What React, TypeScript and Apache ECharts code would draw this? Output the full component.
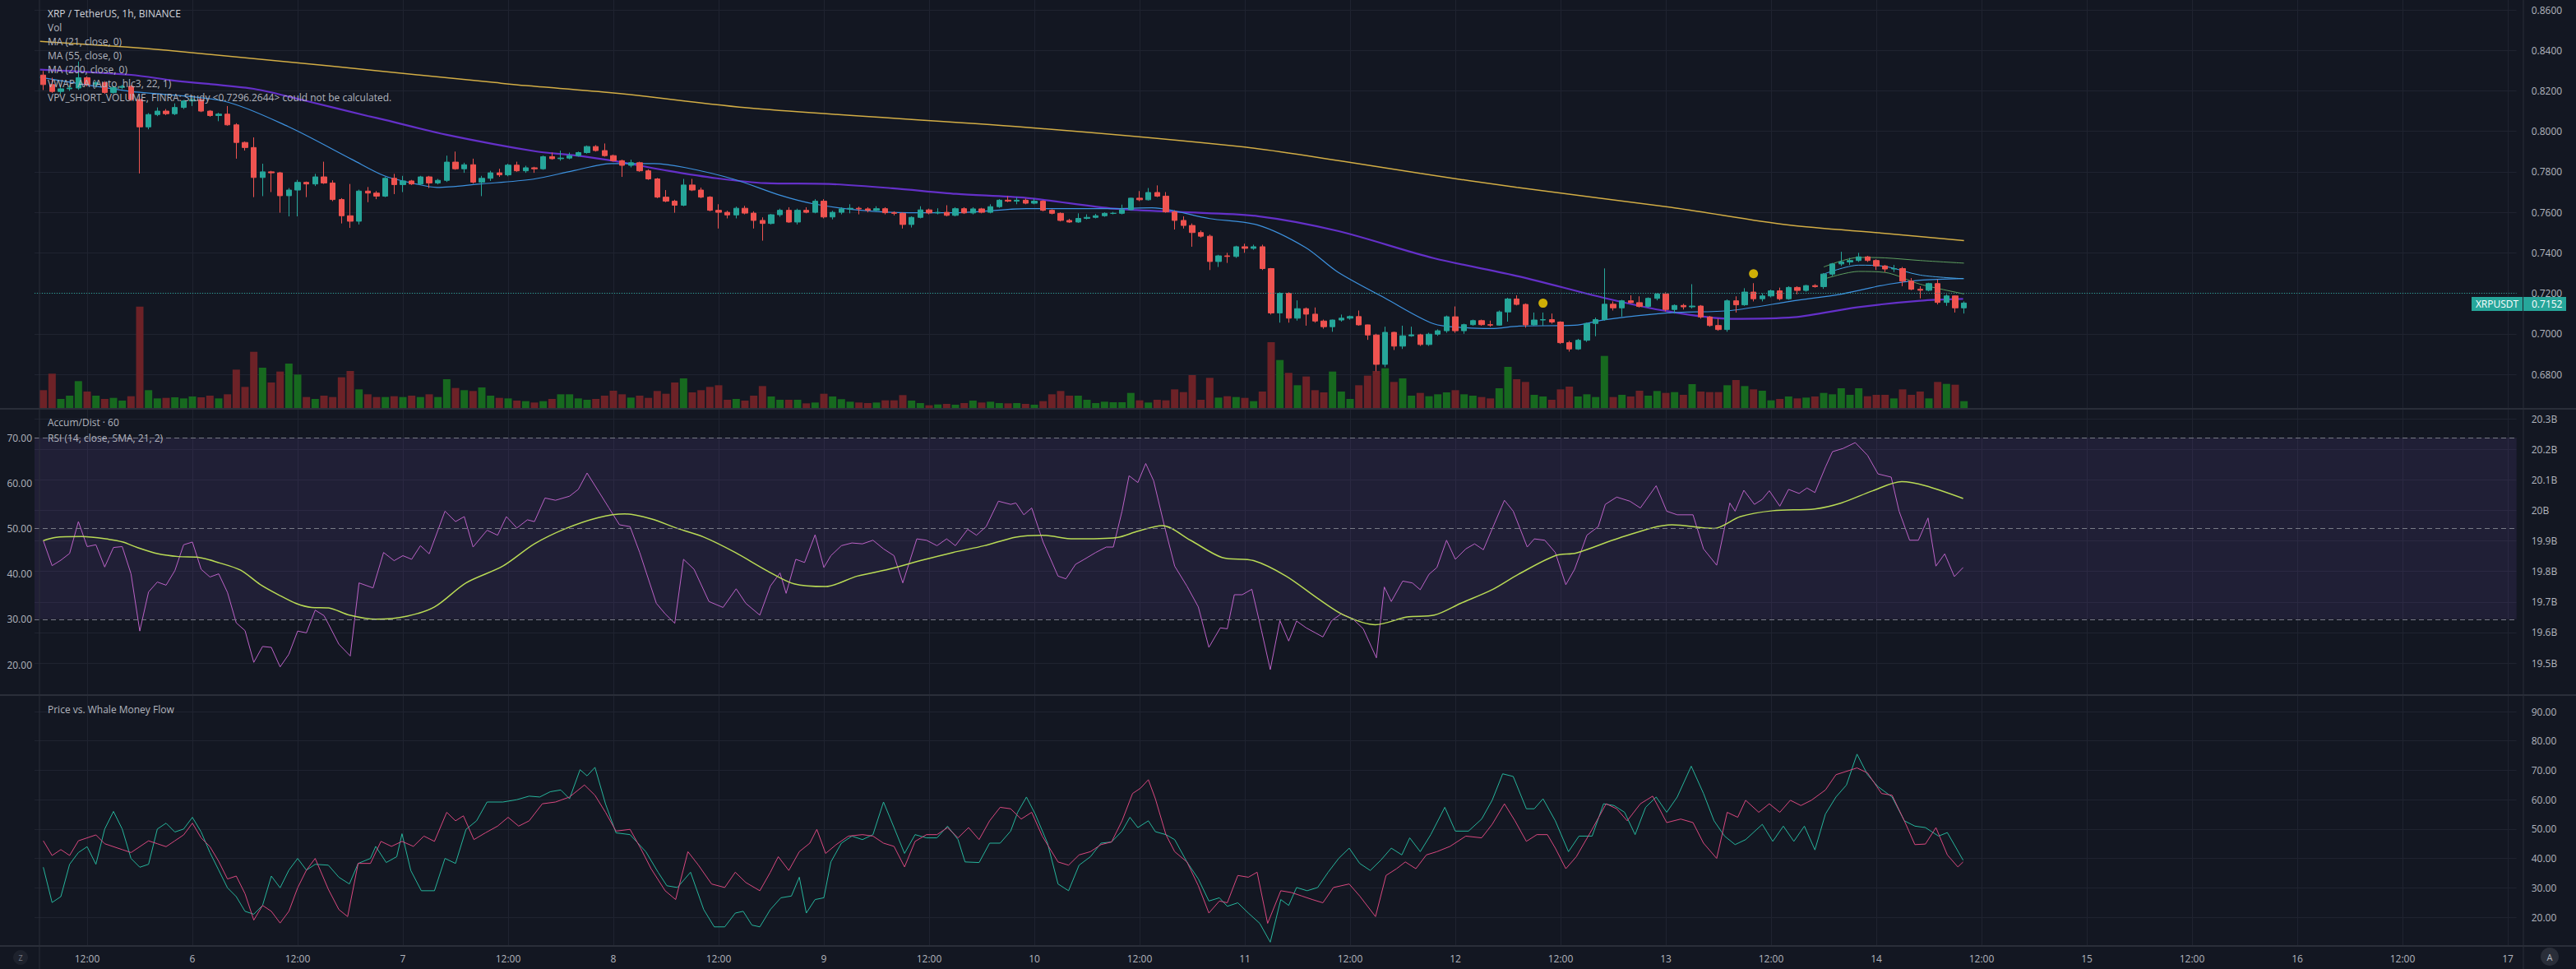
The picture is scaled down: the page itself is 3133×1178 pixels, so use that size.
import React, { useEffect, useRef } from "react";
import * as echarts from "echarts";

const W = 3133;
const H = 1178;
const BG = "#131722";
const GRID_C = "#1f2330";
const BORDER_C = "#2a2e39";
const AXIS_TXT = "#b2b5be";
const FONT = "Open Sans";

// ---- time axis (hourly, from the 5th 06:00 to the 17th 01:00) ----
const startDay = 5;
const startHour = 6;
const hourCount = 284;
const lastPrice = 0.7152;

// ---- candles (index 1 = 5th 07:00) ----
const opens = [
.8278,.8231,.8197,.8210,.8214,.8265,.8231,.8240,.8192,.8217,
.8222,.8157,.8022,.8083,.8100,.8087,.8118,.8150,.8156,.8100,
.8078,.8085,.8032,.7945,.7920,.7772,.7800,.7795,.7682,.7710,
.7748,.7740,.7775,.7745,.7663,.7583,.7556,.7705,.7695,.7680,
.7768,.7737,.7755,.7740,.7775,.7745,.7758,.7848,.7815,.7835,
.7749,.7768,.7795,.7785,.7833,.7805,.7820,.7815,.7875,.7865,
.7868,.7880,.7895,.7925,.7905,.7880,.7855,.7832,.7845,.7805,
.7765,.7675,.7655,.7635,.7735,.7710,.7675,.7610,.7600,.7587,
.7620,.7596,.7560,.7545,.7588,.7610,.7552,.7610,.7600,.7655,
.7577,.7600,.7617,.7620,.7617,.7610,.7618,.7598,.7595,.7540,
.7575,.7612,.7597,.7600,.7585,.7618,.7597,.7617,.7600,.7628,
.7660,.7655,.7660,.7645,.7655,.7610,.7595,.7560,.7552,.7570,
.7575,.7583,.7595,.7595,.7613,.7670,.7662,.7698,.7680,.7602,
.7560,.7535,.7500,.7482,.7357,.7385,.7382,.7430,.7422,.7430,
.7322,.7103,.7200,.7077,.7124,.7097,.7063,.7035,.7068,.7077,
.7085,.7044,.6994,.6849,.7007,.6939,.6990,.6995,.6947,.6998,
.7015,.7084,.7015,.7045,.7065,.7045,.7043,.7108,.7172,.7145,
.7044,.7068,.7070,.7058,.6956,.6925,.6968,.7051,.7070,.7146,
.7128,.7163,.7154,.7135,.7175,.7197,.7120,.7140,.7133,.7137,
.7083,.7041,.7021,.7163,.7143,.7206,.7173,.7187,.7212,.7173,
.7229,.7214,.7238,.7233,.7295,.7345,.7355,.7362,.7380,.7362,
.7335,.7320,.7322,.7260,.7220,.7215,.7248,.7155,.7187,.7128
];
const closes = [
.8231,.8197,.8210,.8214,.8265,.8231,.8240,.8192,.8217,.8222,
.8157,.8022,.8083,.8100,.8087,.8118,.8150,.8156,.8100,.8078,
.8085,.8032,.7945,.7920,.7772,.7800,.7795,.7682,.7710,.7748,
.7740,.7775,.7745,.7663,.7583,.7556,.7705,.7695,.7680,.7768,
.7737,.7755,.7740,.7775,.7745,.7758,.7848,.7815,.7835,.7749,
.7768,.7795,.7785,.7833,.7805,.7820,.7815,.7875,.7865,.7868,
.7880,.7895,.7925,.7905,.7880,.7855,.7832,.7845,.7805,.7765,
.7675,.7655,.7635,.7735,.7710,.7675,.7610,.7600,.7587,.7620,
.7596,.7560,.7545,.7588,.7610,.7552,.7610,.7600,.7655,.7577,
.7600,.7617,.7620,.7617,.7610,.7618,.7598,.7595,.7540,.7575,
.7612,.7597,.7600,.7585,.7618,.7597,.7617,.7600,.7628,.7660,
.7655,.7660,.7645,.7655,.7610,.7595,.7560,.7552,.7570,.7575,
.7583,.7595,.7595,.7613,.7670,.7662,.7698,.7680,.7602,.7560,
.7535,.7500,.7482,.7357,.7385,.7382,.7430,.7422,.7430,.7322,
.7103,.7200,.7077,.7124,.7097,.7063,.7035,.7068,.7077,.7085,
.7044,.6994,.6849,.7007,.6939,.6990,.6995,.6947,.6998,.7015,
.7084,.7015,.7045,.7065,.7045,.7043,.7108,.7172,.7145,.7044,
.7068,.7070,.7058,.6956,.6925,.6968,.7051,.7070,.7146,.7128,
.7163,.7154,.7135,.7175,.7197,.7120,.7140,.7133,.7137,.7083,
.7041,.7021,.7163,.7143,.7206,.7173,.7187,.7212,.7173,.7229,
.7214,.7238,.7233,.7295,.7345,.7355,.7362,.7380,.7362,.7335,
.7320,.7322,.7260,.7220,.7215,.7248,.7155,.7187,.7128,.7152
];
const highs = [
.8298,.8265,.8228,.8228,.8345,.8272,.8250,.8248,.8225,.8230,
.8228,.8170,.8090,.8118,.8110,.8138,.8155,.8170,.8162,.8105,
.8092,.8125,.8040,.7950,.7970,.7840,.7805,.7800,.7720,.7760,
.7752,.7790,.7850,.7758,.7670,.7740,.7712,.7725,.7705,.7775,
.7790,.7780,.7760,.7780,.7780,.7765,.7880,.7900,.7845,.7865,
.7780,.7805,.7815,.7840,.7850,.7830,.7825,.7880,.7895,.7905,
.7895,.7900,.7930,.7932,.7940,.7885,.7860,.7860,.7850,.7812,
.7770,.7710,.7662,.7765,.7765,.7722,.7680,.7640,.7608,.7628,
.7632,.7605,.7575,.7592,.7618,.7625,.7618,.7625,.7665,.7665,
.7608,.7625,.7640,.7628,.7625,.7630,.7625,.7605,.7600,.7580,
.7630,.7618,.7620,.7635,.7625,.7625,.7625,.7622,.7640,.7665,
.7680,.7675,.7668,.7668,.7660,.7615,.7600,.7568,.7595,.7590,
.7592,.7600,.7602,.7638,.7672,.7705,.7720,.7733,.7700,.7610,
.7580,.7545,.7510,.7490,.7390,.7400,.7435,.7445,.7440,.7440,
.7325,.7205,.7205,.7165,.7130,.7130,.7070,.7070,.7095,.7090,
.7115,.7045,.7000,.7035,.7010,.7040,.7035,.7000,.7005,.7022,
.7090,.7135,.7050,.7070,.7070,.7065,.7115,.7178,.7190,.7150,
.7105,.7105,.7100,.7062,.6965,.6975,.7055,.7080,.7323,.7160,
.7168,.7190,.7185,.7180,.7200,.7205,.7145,.7148,.7245,.7142,
.7088,.7075,.7170,.7185,.7225,.7250,.7200,.7218,.7228,.7235,
.7235,.7242,.7245,.7300,.7350,.7405,.7375,.7400,.7385,.7368,
.7340,.7340,.7330,.7275,.7235,.7252,.7268,.7195,.7190,.7160
];
const lows = [
.8204,.8190,.8185,.8200,.8205,.8222,.8215,.8185,.8186,.8208,
.8150,.7792,.8010,.8075,.8080,.8080,.8110,.8125,.8095,.8072,
.8050,.8028,.7865,.7905,.7675,.7680,.7700,.7598,.7580,.7580,
.7675,.7730,.7740,.7655,.7545,.7523,.7540,.7650,.7665,.7675,
.7690,.7700,.7735,.7735,.7720,.7738,.7750,.7810,.7795,.7742,
.7680,.7755,.7775,.7778,.7800,.7795,.7795,.7810,.7860,.7855,
.7862,.7875,.7890,.7900,.7875,.7850,.7775,.7822,.7800,.7760,
.7670,.7650,.7598,.7630,.7705,.7670,.7605,.7520,.7570,.7570,
.7590,.7520,.7460,.7540,.7578,.7548,.7540,.7595,.7595,.7570,
.7565,.7590,.7595,.7590,.7600,.7605,.7590,.7585,.7520,.7525,
.7570,.7590,.7590,.7580,.7580,.7592,.7590,.7595,.7595,.7622,
.7650,.7640,.7640,.7640,.7605,.7590,.7555,.7548,.7548,.7565,
.7570,.7578,.7590,.7590,.7610,.7655,.7658,.7675,.7598,.7515,
.7520,.7430,.7475,.7315,.7330,.7350,.7375,.7400,.7415,.7315,
.7095,.7055,.7055,.7065,.7040,.7055,.7025,.7010,.7060,.7070,
.7040,.6970,.6815,.6835,.6920,.6925,.6985,.6940,.6940,.6990,
.7005,.7005,.7000,.7040,.7040,.7035,.7040,.7060,.7140,.7030,
.7040,.7040,.7050,.6950,.6912,.6920,.6960,.6988,.7065,.7115,
.7085,.7150,.7130,.7130,.7165,.7110,.7100,.7120,.7125,.7075,
.7035,.7015,.7010,.7105,.7138,.7160,.7160,.7180,.7165,.7168,
.7195,.7208,.7228,.7222,.7285,.7335,.7340,.7355,.7355,.7315,
.7305,.7305,.7235,.7215,.7175,.7210,.7145,.7138,.7105,.7100
];
const volumes = [
65,125,33,45,98,60,45,33,37,27,
43,370,65,35,37,39,35,42,39,45,
35,50,140,77,205,147,93,133,162,122,
40,33,45,40,112,135,68,50,40,40,
43,40,45,40,50,40,105,73,65,62,
75,45,37,35,27,25,20,25,33,50,
50,35,30,33,45,63,50,38,45,37,
62,52,93,108,57,65,77,83,30,33,
27,45,80,42,30,30,30,17,20,52,
42,32,23,20,18,20,28,28,47,27,
18,10,13,15,12,18,27,20,23,18,
17,18,15,12,25,50,62,45,45,30,
18,23,21,21,55,28,20,30,28,68,
58,120,30,110,38,43,40,37,25,60,
240,175,128,83,115,65,57,133,60,33,
83,118,135,145,95,108,45,55,43,50,
57,65,50,45,40,35,72,150,105,95,
48,42,30,68,78,42,50,40,190,40,
48,42,63,45,62,55,58,48,87,60,
58,58,83,102,80,68,63,28,33,42,
35,38,42,55,50,72,48,72,43,48,
48,35,68,48,60,35,95,88,85,25
];

// ---- moving averages: [candle index, price] ----
const ma21 = [[0.6,.8267],[10.8,.8198],[21.6,.8149],[28.9,.8024],[36.2,.7861],[39.9,.778],[43.5,.774],[45.9,.7723],[50.8,.774],[56.9,.7764],[61.4,.7805],[65.8,.7841],[70.6,.7841],[74.2,.7821],[79.7,.7764],[85.1,.7683],[88.8,.7642],[94.2,.761],[99.7,.7598],[105.1,.7598],[113.1,.7618],[123.1,.7618],[127.4,.7622],[134,.7569],[139.5,.7537],[144.9,.7427],[148.6,.7305],[154,.7176],[159.5,.705],[163.2,.703],[166.1,.7026],[169.3,.7038],[175.6,.7042],[179.1,.707],[186.2,.7103],[193.4,.7115],[200.6,.7163],[206,.7196],[211.4,.7245],[215,.7265],[219.9,.7273]];
const ma55 = [[0.6,.8305],[11,.8279],[16,.825],[25,.821],[31,.815],[38,.8076],[40,.8056],[47,.7983],[57,.7902],[61.4,.7882],[66.2,.7853],[72.4,.7804],[77.8,.7768],[83.3,.7744],[90.6,.774],[97.8,.7719],[105.1,.7691],[113.1,.7671],[123.1,.7618],[130.4,.7602],[139.5,.7581],[148.6,.7508],[159.5,.7374],[169.3,.7283],[179.1,.7176],[186.2,.7111],[193.4,.7074],[200.6,.7082],[207.8,.7131],[215,.7163],[219.9,.7172]];
const ma200 = [[0.6,.8445],[15,.8401],[52,.8243],[56,.8226],[66,.819],[82,.8113],[113,.802],[138,.7922],[149,.7853],[158,.7792],[169,.7723],[187,.7622],[200,.7537],[211,.7496],[220,.746]];
const vwapUpper = [[204,.7330],[208,.7377],[211,.7375],[215,.7362],[220,.7349]];
const vwapMid = [[204,.7295],[208,.7339],[211,.7333],[215,.7290],[220,.7272]];
const vwapLower = [[204,.7270],[208,.7308],[211,.7303],[215,.7245],[220,.7197]];
const signalDots = [[172,.7151],[196,.7297]];

// ---- RSI pane ----
const rsi = [[1,47.3],[2,41.8],[3,43],[4,44.5],[5,51.5],[6,46],[7,46.4],[8,41.5],[9,45.8],[10,46],[11,40],[12,27.4],[13,36],[14,38.2],[15,37.5],[16,40.7],[17,46.4],[18,47],[19,41],[20,39.3],[21,40],[22,35.9],[23,29.2],[24,27.5],[25,20.5],[26,24],[27,23.8],[28,19.5],[29,22.3],[30,27.4],[31,27],[32,32],[33,30.8],[33.5,29],[34.7,24.5],[36,21.9],[37,38],[38.6,36.9],[39.8,44.7],[41,42.9],[42,44],[43,43.2],[44,46.2],[45,44.4],[46.8,53.8],[48,51.5],[49,52.6],[50,45.9],[51.6,49.6],[52.8,48.5],[53.8,52.6],[55,50.1],[56.2,51.9],[57,51.5],[58.2,56.7],[59.4,56.2],[61,57.1],[62,58.6],[63,62.2],[64.3,58.2],[65.5,54.5],[66.7,50.8],[67.9,50.4],[69,44.7],[70.9,33.5],[71.9,31.2],[73,29.1],[74,43.2],[75.2,41],[76.9,33.9],[78.5,32.6],[80,36.7],[81.1,33.5],[82.7,30.9],[83.9,37.3],[85,40.2],[85.7,35.7],[86.8,43.2],[87.8,42.5],[89,48.6],[90,41.4],[90.8,44],[92,46.2],[93.2,46.8],[94.4,46.6],[95.6,47.4],[96.8,45.5],[98,44],[99,38],[100.6,47.7],[101.7,47.4],[102.9,46.2],[104,47.7],[105,46.2],[106.4,49.8],[107.4,48.5],[108.5,50.4],[109.9,56],[111.3,55.3],[111.9,55.6],[112.8,53],[113.7,54.5],[115,47],[116.7,39.5],[117.6,38.9],[118.7,42.1],[119.7,43.2],[121,44.7],[122.2,45.9],[123,45.9],[124,53.8],[124.8,61.6],[125.8,60.1],[126.7,64.3],[127.6,60.5],[128.8,50.8],[130,41.7],[131.4,37.3],[132.7,32.7],[133.9,23.8],[135.2,28.1],[136,27.9],[136.8,35.4],[137.7,35.4],[138.8,36.6],[139.9,27.5],[140.9,18.9],[142,29.7],[143,25.2],[143.9,29.6],[145,28.1],[146.9,26.1],[147.9,29.7],[149,31.2],[150.3,30.1],[151.5,27.9],[153,21.5],[153.9,37.1],[154.7,33.9],[156,38.4],[157.1,38],[158,36.5],[159,39.9],[159.9,41.4],[161,47.4],[162,43.2],[163.2,45.5],[164.2,46.6],[165.2,45.3],[166.4,50.8],[167.6,56.2],[168.6,53.8],[170.2,45.9],[171,47.7],[172.2,47.4],[173.4,44.7],[174.6,37.6],[175.6,41],[177,48.5],[178.3,50.4],[179.1,55.3],[180.4,56.9],[181.9,56],[183.1,54.5],[184.9,59.4],[186.1,53.8],[187.3,53],[189.1,53],[190.3,45.5],[191.8,41.9],[193.3,55.6],[193.9,53.8],[194.9,58.4],[196.1,55.3],[197,56.4],[197.8,58.3],[199,54.9],[200,58.6],[201.2,57.7],[202.1,58.9],[203,57.9],[204.2,63.5],[205,66.9],[206.2,67.6],[207.6,68.9],[209,66.1],[210.2,62],[211.7,61.3],[212.6,53.8],[213.8,47.4],[214.8,47.4],[215.9,52.3],[216.8,41.7],[217.8,44.4],[218.9,39.4],[219.9,41.4]];
const rsiMa = [[1,47.3],[2.3,48],[5.4,48.2],[8.5,47.6],[10.1,47],[11.7,45.8],[14.1,44.4],[16.4,43.8],[18.5,43.7],[21.1,42.4],[23.5,40.8],[25.7,37.7],[27.9,35.3],[29.8,33.5],[31.6,32.6],[33.5,32.5],[35.9,30.9],[38.9,30],[42.5,30.7],[45.6,32.7],[49.2,38],[53.4,41.7],[57,46.6],[60.6,50],[64.3,52.4],[67.3,53.2],[70.3,52.1],[73.3,50],[76.3,48.1],[79.9,44.7],[83.6,40.6],[86.6,37.8],[90.2,37.2],[93.8,39.5],[97.4,41],[101,42.9],[104.7,44.7],[108.3,46.2],[111.9,48.1],[114.9,48.5],[118.5,47.7],[123.4,48],[125.8,49.4],[128.6,50.6],[131.8,47.4],[135.4,43.6],[139,42.9],[142.7,39.5],[146.3,34.6],[149.3,30.9],[152.9,28.8],[156.5,30.5],[159.6,30.9],[162.6,33.5],[166.2,36.5],[169.2,39.9],[173.4,44],[175.8,44.6],[180.7,47.9],[186.7,50.8],[191.5,50],[194.5,52.6],[198.2,53.9],[203,54.3],[206,55.6],[209.6,58.3],[212.9,60.3],[215.6,59.4],[219.9,56.6]];
const rsiTicks = [20, 30, 40, 50, 60, 70];
const rsiLevels = [70, 50, 30];

// ---- Price vs. Whale Money Flow pane ----
const whaleTeal = [[1,37],[2,25],[3,27],[4,38],[5,42],[6,44],[7,38],[8,50],[9,56],[10,50],[11,40],[12,37],[13,38],[14,50],[15,52],[16,49],[17,50],[18,54],[19,49],[20,42],[21,36],[22,30],[23,27],[24,22],[25,21],[26,24],[27,34],[28,30],[29,36],[30,40],[31,36],[32,38],[33.5,37.7],[34.7,33.6],[35.9,31.3],[36.9,38.3],[38.3,40],[38.9,44.1],[40.1,38.6],[41.3,40.6],[41.9,48.4],[42.9,35.9],[44.1,29],[45.6,29],[46.8,40],[48,38.3],[49.2,49.9],[50.4,52.8],[51.6,59.2],[53.4,59.2],[55,60],[56.4,61.2],[57.6,60.9],[58.8,62.7],[60,63.3],[61,60.3],[62.2,70.2],[63,68.1],[63.9,71],[65.1,58.6],[66.3,48.7],[67.9,48.1],[69.7,42.3],[71.1,35.3],[72.1,30.7],[73.3,30.1],[74.8,35.3],[76.3,22.6],[77.5,16.7],[78.7,16.7],[79.9,21.4],[80.8,22],[81.8,17.3],[82.7,16.7],[83.9,22.6],[85.1,26.6],[86.3,27.2],[87.2,33.6],[88,21.4],[89,26],[90,26.6],[90.8,38.8],[92,45.2],[93.2,47.6],[94.4,46.4],[95.6,48.1],[96.8,59.2],[98,50.5],[99.2,41.7],[100.4,48.1],[101.7,47],[102.9,47],[104.1,51],[105.3,46.4],[106.1,38.8],[107.7,38.6],[108.9,45.2],[110.1,45.2],[111.3,49.3],[112.1,55.7],[113.1,60.9],[114.1,55.1],[115.5,45.2],[116.7,31.3],[117.9,29],[119.1,37.7],[120.4,40.6],[121.6,45.2],[122.8,45.6],[124,49.3],[124.9,54],[125.8,50.5],[127,52.8],[127.8,49.1],[129,48.1],[130,46.4],[131.4,38.8],[132.7,33],[133.9,25.5],[135.1,26.6],[136,23.7],[137.2,24.9],[138.4,21.4],[139.7,17.9],[140.9,11.5],[142.1,26],[143,24],[143.9,30.1],[145.1,29],[146.3,30.1],[147.5,35.3],[148.7,40],[149.9,43.5],[151.1,38.3],[152.3,35.9],[153.5,39.4],[154.7,43.5],[155.9,41.2],[156.8,47],[158,42.3],[159.2,48.1],[160.8,57.4],[162,49.3],[163.5,49.3],[165,53.4],[166.2,59.8],[167.4,68.8],[168.6,67.9],[170.1,56.9],[171,56.9],[172,60.3],[173.4,52.8],[174.9,42.3],[176.1,47.6],[177.6,47.6],[178.9,58.6],[180.1,58],[181.3,55.7],[182.5,48.1],[183.7,57.4],[184.9,60.9],[186.1,55.7],[187.3,60.9],[188.9,71.4],[190.3,62.1],[191.5,52.8],[192.7,47.6],[193.9,44.7],[195.1,46.4],[197,51.6],[198.2,45.8],[199.4,51],[200.6,45.8],[201.8,51],[203,42.9],[204.2,55.1],[205.4,60.9],[206.6,65],[207.8,75.5],[209,68.5],[210.2,64.4],[211.8,60.9],[213.2,52.8],[214.4,51],[215.6,50.5],[217.1,47.6],[218.1,48.8],[219.9,39.4]];
const whalePink = [[1,46],[2,41],[3,43],[4,41],[5,46],[6,47],[7,48],[8,45],[9,44],[10,43],[11,42],[12,44],[13,46],[14,45],[15,44],[16,46],[17,48],[18,52],[19,47],[20,44],[21,39],[22,33],[23,34],[24,28],[25,19],[26,24],[27,22],[28,18],[29,22],[30,30],[31,36],[32,40],[33.5,29.5],[34.7,22.6],[35.7,20.2],[36.9,38.3],[38.3,38.3],[39.5,45.8],[40.7,44.1],[41.9,45.8],[43.2,44.1],[44.4,47.6],[45.6,45.8],[47,55.7],[48,52.8],[48.9,54.5],[50.1,46.4],[51.4,48.7],[52.8,51],[54,54],[55.2,51],[56.4,52.8],[57.9,58.6],[59.4,59.2],[61,60.9],[62.7,65],[63.9,61.5],[65.1,55.7],[66.3,49.3],[67.9,49.9],[69.1,43.5],[70.3,36.5],[71.9,29],[73.1,26],[74.5,42.3],[75.7,37.7],[77.2,31.3],[78.7,30.1],[79.9,35.3],[81.1,31.8],[82.7,29],[83.9,35.3],[84.8,40.6],[86,35.9],[87.2,42.3],[88.4,45.2],[89.2,49.9],[90.2,41.7],[91.4,44.7],[92.8,47.6],[94.4,48.1],[95.6,47.6],[96.8,45.2],[98,44.1],[99.2,37.1],[100.4,45.8],[101.7,48.1],[102.9,48.1],[104.1,50.5],[105.3,47],[106.5,50.5],[107.7,46.4],[108.9,52.8],[110.1,57.4],[111.3,56.9],[112.5,53.4],[113.7,55.7],[114.9,47.6],[116.7,38.8],[117.9,37.7],[119.1,41.2],[120.4,42.3],[121.6,44.7],[122.8,45.6],[124,52.8],[125.2,62.1],[126.1,63.9],[127,66.8],[127.8,60.3],[129,48.1],[130,42.3],[131.4,38.8],[132.7,30.7],[133.9,21.4],[135.1,25.5],[136,24.9],[137.2,34.2],[138.4,33.6],[139.4,35.3],[140.6,17.9],[142.1,29],[143.3,28.4],[144.5,27.2],[145.7,26],[146.9,24.9],[148.1,30.1],[149.9,31.3],[151.1,27.2],[152.9,20.2],[154.1,34.2],[155.3,36.5],[156.3,38.8],[157.5,36.5],[158.7,41.2],[159.9,42.3],[161.4,44.1],[163.2,47.6],[165,47],[166.2,51.6],[167.6,58.6],[168.8,52.8],[170.1,45.8],[171.3,48.1],[172.5,48.1],[173.4,43.5],[174.6,36.5],[175.8,40.6],[177.6,49.9],[179.2,58.6],[180.4,56.9],[181.6,52.8],[183.1,58.6],[184.5,61.2],[186.1,52.2],[187.7,53.4],[189.1,52.2],[190.3,45.2],[191.8,40],[193,55.7],[194.2,54],[195.1,59.8],[196.6,55.7],[197.8,58.6],[199,55.7],[200.2,59.8],[201.4,58],[202.6,59.8],[204.2,63.3],[205.4,68.5],[207.8,70.8],[209,69.1],[210.6,62.1],[211.8,61.5],[213.2,52.8],[214.4,44.7],[215.6,44.9],[216.8,50.5],[218.1,41.2],[219.3,37.1],[219.9,38.8]];

// ---- texts ----
const mainLegend = [
  "XRP / TetherUS, 1h, BINANCE",
  "Vol",
  "MA (21, close, 0)",
  "MA (55, close, 0)",
  "MA (200, close, 0)",
  "VWAP AA (Auto, hlc3, 22, 1)",
  "VPV_SHORT_VOLUME, FINRA: Study <0.7296.2644> could not be calculated.",
];
const rsiLegend = ["Accum/Dist · 60", "RSI (14, close, SMA, 21, 2)"];
const whaleLegend = "Price vs. Whale Money Flow";

// ---------------------------------------------------------------
const STEP = 256 / 24;
const GL = 42;
const GR = W - (GL + (hourCount - 1) * STEP);

const categories: string[] = [];
for (let i = 0; i < hourCount; i++) {
  const t = startHour + i;
  const d = startDay + Math.floor(t / 24);
  const h = t % 24;
  categories.push(h === 0 ? String(d) : h === 12 ? "12:00" : `${d} ${String(h).padStart(2, "0")}:00`);
}
const isMark = (i: number) => {
  const h = (startHour + i) % 24;
  return h === 0 || h === 12;
};

const UP = "#26a69a";
const DOWN = "#ef5350";

function buildOption() {
  const candleData = closes.map((c, i) => [i + 1, opens[i], c, lows[i], highs[i]]);
  const volData = volumes.map((v, i) => ({
    value: [i + 1, v],
    itemStyle: { color: closes[i] >= opens[i] ? "#17691f" : "#6d2227" },
  }));
  const bandDiff = vwapUpper.map((p, i) => [p[0], p[1] - vwapLower[i][1]]);

  const txt = (text: string, x: number, y: number, fill = "#b2b5be", size = 12) => ({
    type: "text",
    x,
    y,
    z: 100,
    silent: true,
    style: { text, fill, font: `${size}px '${FONT}'`, verticalAlign: "middle", align: "left" },
  });
  const hline = (y: number, x1 = 0, x2 = W) => ({
    type: "line",
    z: 90,
    silent: true,
    shape: { x1, y1: y, x2, y2: y },
    style: { stroke: BORDER_C, lineWidth: 2 },
  });
  const vline = (x: number, y1: number, y2: number) => ({
    type: "line",
    z: 90,
    silent: true,
    shape: { x1: x, y1, x2: x, y2 },
    style: { stroke: BORDER_C, lineWidth: 1 },
  });

  const graphics: any[] = [];
  mainLegend.forEach((t, i) => graphics.push(txt(t, 58, 16 + i * 17, i === 0 ? "#d1d4dc" : "#b2b5be")));
  rsiLegend.forEach((t, i) => graphics.push(txt(t, 58, 513 + i * 19)));
  graphics.push(txt(whaleLegend, 58, 862));
  graphics.push(hline(497), hline(845), hline(1150));
  graphics.push(vline(48, 0, H), vline(3069, 0, H));
  // last price label
  graphics.push(
    { type: "rect", z: 120, silent: true, shape: { x: 3006, y: 361, width: 62, height: 17 }, style: { fill: UP } },
    { type: "rect", z: 120, silent: true, shape: { x: 3069, y: 361, width: 52, height: 17 }, style: { fill: UP } },
    { type: "text", z: 121, silent: true, x: 3037, y: 369.5, style: { text: "XRPUSDT", fill: "#ffffff", font: `12px '${FONT}'`, align: "center", verticalAlign: "middle" } },
    { type: "text", z: 121, silent: true, x: 3079, y: 369.5, style: { text: lastPrice.toFixed(4), fill: "#ffffff", font: `12px '${FONT}'`, align: "left", verticalAlign: "middle" } }
  );
  // corner buttons
  graphics.push(
    { type: "circle", z: 100, shape: { cx: 25, cy: 1164, r: 9 }, style: { fill: "#1e222d" } },
    { type: "text", z: 101, x: 25, y: 1164, style: { text: "Z", fill: "#787b86", font: `9px '${FONT}'`, align: "center", verticalAlign: "middle" } },
    { type: "circle", z: 100, shape: { cx: 3101, cy: 1163, r: 11 }, style: { fill: "#2a2e39" } },
    { type: "text", z: 101, x: 3101, y: 1163, style: { text: "A", fill: "#b2b5be", font: `11px '${FONT}'`, align: "center", verticalAlign: "middle" } }
  );

  const lbl = { color: AXIS_TXT, fontSize: 12, fontFamily: FONT };
  const split = { show: true, lineStyle: { color: GRID_C, width: 1 } };
  const noLine = { show: false };

  const lineSeries = (name: string, data: number[][], xi: number, yi: number, color: string, width: number, smooth: any = false, extra: any = {}) => ({
    name,
    type: "line",
    xAxisIndex: xi,
    yAxisIndex: yi,
    data,
    showSymbol: false,
    smooth,
    clip: false,
    silent: true,
    lineStyle: { color, width },
    z: 3,
    ...extra,
  });

  return {
    animation: false,
    backgroundColor: BG,
    textStyle: { fontFamily: FONT },
    grid: [
      { left: GL, right: GR, top: 0, height: 1150 },
      { left: GL, right: GR, top: 12, height: 443 },
      { left: GL, right: GR, top: 372, height: 124 },
      { left: GL, right: GR, top: 509, height: 297 },
      { left: GL, right: GR, top: 532, height: 276 },
      { left: GL, right: GR, top: 865, height: 250 },
    ],
    xAxis: [
      {
        type: "category",
        gridIndex: 0,
        data: categories,
        boundaryGap: false,
        axisLine: noLine,
        axisTick: noLine,
        axisLabel: { ...lbl, interval: (i: number) => isMark(i), margin: 9 },
        splitLine: { show: true, interval: (i: number) => isMark(i), lineStyle: { color: GRID_C, width: 1 } },
      },
      { type: "category", gridIndex: 1, data: categories, boundaryGap: false, show: false },
      { type: "value", gridIndex: 1, min: 0, max: hourCount - 1, show: false },
      { type: "category", gridIndex: 2, data: categories, boundaryGap: false, show: false },
      { type: "value", gridIndex: 3, min: 0, max: hourCount - 1, show: false },
      { type: "value", gridIndex: 4, min: 0, max: hourCount - 1, show: false },
      { type: "value", gridIndex: 5, min: 0, max: hourCount - 1, show: false },
    ],
    yAxis: [
      { type: "value", gridIndex: 0, min: 0, max: 1, show: false },
      {
        type: "value",
        gridIndex: 1,
        position: "right",
        min: 0.68,
        max: 0.86,
        interval: 0.02,
        axisLine: noLine,
        axisTick: noLine,
        axisLabel: { ...lbl, margin: 18, formatter: (v: number) => v.toFixed(4) },
        splitLine: split,
      },
      { type: "value", gridIndex: 2, min: 0, max: 372, show: false },
      {
        type: "value",
        gridIndex: 3,
        position: "right",
        min: 19.5,
        max: 20.3,
        interval: 0.1,
        axisLine: noLine,
        axisTick: noLine,
        axisLabel: {
          ...lbl,
          margin: 18,
          formatter: (v: number) => {
            const s = (Math.round(v * 10) / 10).toFixed(1);
            return (s.endsWith(".0") ? s.slice(0, -2) : s) + "B";
          },
        },
        splitLine: split,
      },
      {
        type: "value",
        gridIndex: 4,
        position: "left",
        min: rsiTicks[0],
        max: rsiTicks[rsiTicks.length - 1],
        interval: 10,
        axisLine: noLine,
        axisTick: noLine,
        axisLabel: { ...lbl, margin: 3, formatter: (v: number) => v.toFixed(2) },
        splitLine: noLine,
      },
      {
        type: "value",
        gridIndex: 5,
        position: "right",
        min: 20,
        max: 90,
        interval: 10,
        axisLine: noLine,
        axisTick: noLine,
        axisLabel: { ...lbl, margin: 18, formatter: (v: number) => v.toFixed(2) },
        splitLine: split,
      },
    ],
    series: [
      {
        name: "Vol",
        type: "bar",
        xAxisIndex: 3,
        yAxisIndex: 2,
        data: volData,
        barWidth: 9,
        silent: true,
        z: 1,
      },
      {
        name: "XRPUSDT",
        type: "candlestick",
        xAxisIndex: 1,
        yAxisIndex: 1,
        data: candleData,
        encode: { x: 0, y: [1, 2, 3, 4] },
        barWidth: 7,
        silent: true,
        z: 4,
        itemStyle: { color: UP, color0: DOWN, borderColor: UP, borderColor0: DOWN, borderWidth: 1 },
        markLine: {
          silent: true,
          symbol: ["none", "none"],
          label: { show: false },
          lineStyle: { color: UP, type: [1, 2], width: 1 },
          data: [{ yAxis: lastPrice }],
        },
      },
      lineSeries("MA200", ma200, 2, 1, "#d2ad45", 1.5, 0.3),
      lineSeries("MA55", ma55, 2, 1, "#6430c8", 2.2, 0.3),
      lineSeries("MA21", ma21, 2, 1, "#3d92e0", 1.2, 0.3),
      lineSeries("VWAP lower", vwapLower, 2, 1, "#5d9e5f", 1, 0.3, { stack: "vwapband" }),
      lineSeries("VWAP band", bandDiff, 2, 1, "rgba(0,0,0,0)", 0, 0.3, {
        stack: "vwapband",
        areaStyle: { color: "rgba(120,123,134,0.12)" },
      }),
      lineSeries("VWAP upper", vwapUpper, 2, 1, "#5d9e5f", 1, 0.3),
      lineSeries("VWAP", vwapMid, 2, 1, "#45a3e6", 1, 0.3),
      {
        name: "signals",
        type: "scatter",
        xAxisIndex: 2,
        yAxisIndex: 1,
        data: signalDots,
        symbolSize: 11,
        silent: true,
        itemStyle: { color: "#ffd600" },
        z: 5,
      },
      lineSeries("RSI", rsi, 5, 4, "#bb62c6", 1, false, {
        markArea: {
          silent: true,
          itemStyle: { color: "rgba(126,87,194,0.13)" },
          data: [[{ yAxis: rsiLevels[2] }, { yAxis: rsiLevels[0] }]],
        },
        markLine: {
          silent: true,
          symbol: ["none", "none"],
          label: { show: false },
          lineStyle: { color: "#787b86", type: [6, 4], width: 1 },
          data: rsiLevels.map((v) => ({ yAxis: v })),
        },
      }),
      lineSeries("RSI MA", rsiMa, 5, 4, "#b9da55", 1.5, 0.3),
      lineSeries("Whale", whaleTeal, 6, 5, "#26b59c", 1),
      lineSeries("Price", whalePink, 6, 5, "#d9487f", 1),
    ],
    graphic: graphics,
  };
}

export default function App() {
  const ref = useRef<HTMLDivElement>(null);
  useEffect(() => {
    document.body.style.margin = "0";
    document.body.style.background = BG;
    if (!ref.current) return;
    const chart = echarts.init(ref.current, null, { renderer: "svg", width: W, height: H });
    chart.setOption(buildOption() as any);
    return () => chart.dispose();
  }, []);
  return <div ref={ref} style={{ width: W, height: H, background: BG }} />;
}
